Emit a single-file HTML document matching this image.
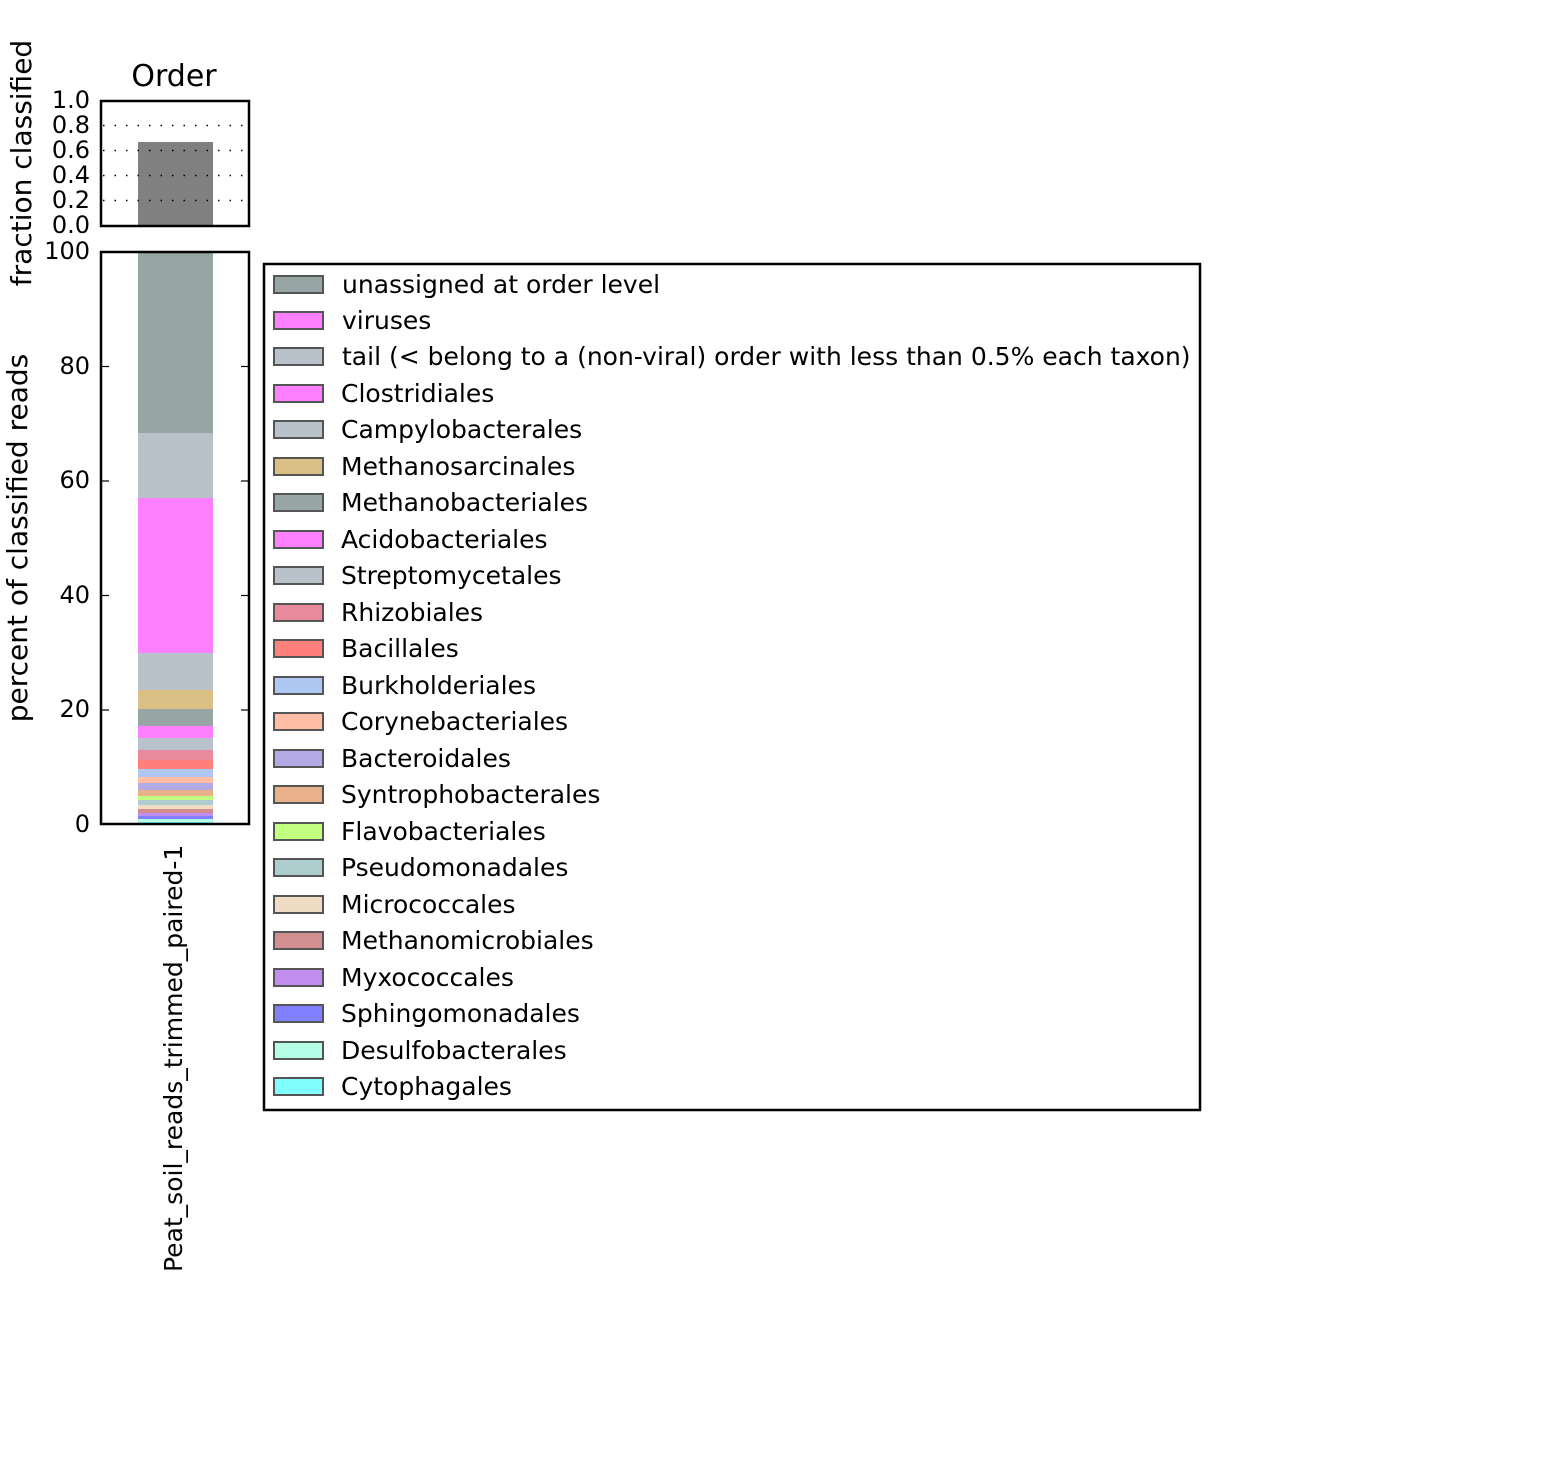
<!DOCTYPE html>
<html><head><style>body{margin:0;background:#fff}svg{display:block}text{font-family:"DejaVu Sans","Liberation Sans",sans-serif;fill:#000}</style></head>
<body>
<svg width="1557" height="1463" viewBox="0 0 1557 1463" xmlns="http://www.w3.org/2000/svg">
<rect width="1557" height="1463" fill="#fff"/>
<text x="174" y="86" font-size="30" text-anchor="middle">Order</text>
<rect x="138" y="142" width="75" height="84" fill="#808080"/>
<g stroke="#000" stroke-width="1.5" stroke-dasharray="1.5,10">
<line x1="103" y1="125.5" x2="249" y2="125.5"/><line x1="103" y1="150.5" x2="249" y2="150.5"/><line x1="103" y1="175.5" x2="249" y2="175.5"/><line x1="103" y1="200.5" x2="249" y2="200.5"/></g>
<rect x="101" y="101" width="148" height="125" fill="none" stroke="#000" stroke-width="2.5"/>
<g font-size="24" text-anchor="end">
<text x="90" y="108">1.0</text><text x="90" y="133">0.8</text><text x="90" y="158">0.6</text><text x="90" y="183">0.4</text><text x="90" y="208">0.2</text><text x="90" y="233">0.0</text></g>
<text transform="translate(31,163) rotate(-90)" font-size="28" text-anchor="middle">fraction classified</text>
<g>
<rect x="138" y="252" width="75" height="181" fill="#97a6a5"/>
<rect x="138" y="433" width="75" height="65" fill="#b9c1ca"/>
<rect x="138" y="498" width="75" height="155" fill="#ff80fe"/>
<rect x="138" y="653" width="75" height="37" fill="#b9c1ca"/>
<rect x="138" y="690" width="75" height="19" fill="#dbc086"/>
<rect x="138" y="709" width="75" height="17" fill="#97a6a5"/>
<rect x="138" y="726" width="75" height="12" fill="#ff80fe"/>
<rect x="138" y="738" width="75" height="12" fill="#b9c1ca"/>
<rect x="138" y="750" width="75" height="10" fill="#e8899c"/>
<rect x="138" y="760" width="75" height="9" fill="#ff807c"/>
<rect x="138" y="769" width="75" height="8" fill="#aec8f2"/>
<rect x="138" y="777" width="75" height="6" fill="#ffbda6"/>
<rect x="138" y="783" width="75" height="7" fill="#b4abe6"/>
<rect x="138" y="790" width="75" height="6" fill="#e9b08c"/>
<rect x="138" y="796" width="75" height="4" fill="#c2fe80"/>
<rect x="138" y="800" width="75" height="5" fill="#aecdcf"/>
<rect x="138" y="805" width="75" height="4" fill="#efdcc4"/>
<rect x="138" y="809" width="75" height="4" fill="#d38e90"/>
<rect x="138" y="813" width="75" height="3" fill="#c18ef0"/>
<rect x="138" y="816" width="75" height="3" fill="#8080fe"/>
<rect x="138" y="819" width="75" height="3" fill="#b4fde6"/>
<rect x="138" y="822" width="75" height="2" fill="#80fefe"/>
</g>
<rect x="101" y="252" width="148" height="572" fill="none" stroke="#000" stroke-width="2.5"/>
<g stroke="#000" stroke-width="1.2">
<line x1="101" y1="366.5" x2="109" y2="366.5"/><line x1="241" y1="366.5" x2="249" y2="366.5"/>
<line x1="101" y1="481" x2="109" y2="481"/><line x1="241" y1="481" x2="249" y2="481"/>
<line x1="101" y1="595.5" x2="109" y2="595.5"/><line x1="241" y1="595.5" x2="249" y2="595.5"/>
<line x1="101" y1="710" x2="109" y2="710"/><line x1="241" y1="710" x2="249" y2="710"/></g>
<g font-size="24" text-anchor="end">
<text x="90" y="259">100</text><text x="90" y="374">80</text><text x="90" y="488">60</text><text x="90" y="603">40</text><text x="90" y="717">20</text><text x="90" y="832">0</text></g>
<text transform="translate(27,538) rotate(-90)" font-size="28" text-anchor="middle">percent of classified reads</text>
<text transform="translate(182,1272) rotate(-90)" font-size="25">Peat_soil_reads_trimmed_paired-1</text>
<rect x="264" y="264" width="936" height="846" fill="#fff" stroke="#000" stroke-width="2.5"/>
<g stroke="#555" stroke-width="2">
<rect x="274" y="276" width="49" height="17" fill="#97a6a5"/>
<rect x="274" y="312" width="49" height="17" fill="#ff80fe"/>
<rect x="274" y="348" width="49" height="17" fill="#b9c1ca"/>
<rect x="274" y="385" width="49" height="17" fill="#ff80fe"/>
<rect x="274" y="421" width="49" height="17" fill="#b9c1ca"/>
<rect x="274" y="458" width="49" height="17" fill="#dbc086"/>
<rect x="274" y="494" width="49" height="17" fill="#97a6a5"/>
<rect x="274" y="531" width="49" height="17" fill="#ff80fe"/>
<rect x="274" y="567" width="49" height="17" fill="#b9c1ca"/>
<rect x="274" y="604" width="49" height="17" fill="#e8899c"/>
<rect x="274" y="640" width="49" height="17" fill="#ff807c"/>
<rect x="274" y="677" width="49" height="17" fill="#aec8f2"/>
<rect x="274" y="713" width="49" height="17" fill="#ffbda6"/>
<rect x="274" y="750" width="49" height="17" fill="#b4abe6"/>
<rect x="274" y="786" width="49" height="17" fill="#e9b08c"/>
<rect x="274" y="823" width="49" height="17" fill="#c2fe80"/>
<rect x="274" y="859" width="49" height="17" fill="#aecdcf"/>
<rect x="274" y="896" width="49" height="17" fill="#efdcc4"/>
<rect x="274" y="932" width="49" height="17" fill="#d38e90"/>
<rect x="274" y="969" width="49" height="17" fill="#c18ef0"/>
<rect x="274" y="1005" width="49" height="17" fill="#8080fe"/>
<rect x="274" y="1042" width="49" height="17" fill="#b4fde6"/>
<rect x="274" y="1078" width="49" height="17" fill="#80fefe"/>
</g>
<g font-size="25">
<text x="342" y="293">unassigned at order level</text>
<text x="342" y="329">viruses</text>
<text x="342" y="365">tail (&lt; belong to a (non-viral) order with less than 0.5% each taxon)</text>
<text x="341" y="402">Clostridiales</text>
<text x="341" y="438">Campylobacterales</text>
<text x="341" y="475">Methanosarcinales</text>
<text x="341" y="511">Methanobacteriales</text>
<text x="341" y="548">Acidobacteriales</text>
<text x="341" y="584">Streptomycetales</text>
<text x="341" y="621">Rhizobiales</text>
<text x="341" y="657">Bacillales</text>
<text x="341" y="694">Burkholderiales</text>
<text x="341" y="730">Corynebacteriales</text>
<text x="341" y="767">Bacteroidales</text>
<text x="341" y="803">Syntrophobacterales</text>
<text x="341" y="840">Flavobacteriales</text>
<text x="341" y="876">Pseudomonadales</text>
<text x="341" y="913">Micrococcales</text>
<text x="341" y="949">Methanomicrobiales</text>
<text x="341" y="986">Myxococcales</text>
<text x="341" y="1022">Sphingomonadales</text>
<text x="341" y="1059">Desulfobacterales</text>
<text x="341" y="1095">Cytophagales</text>
</g>
</svg>
</body></html>
